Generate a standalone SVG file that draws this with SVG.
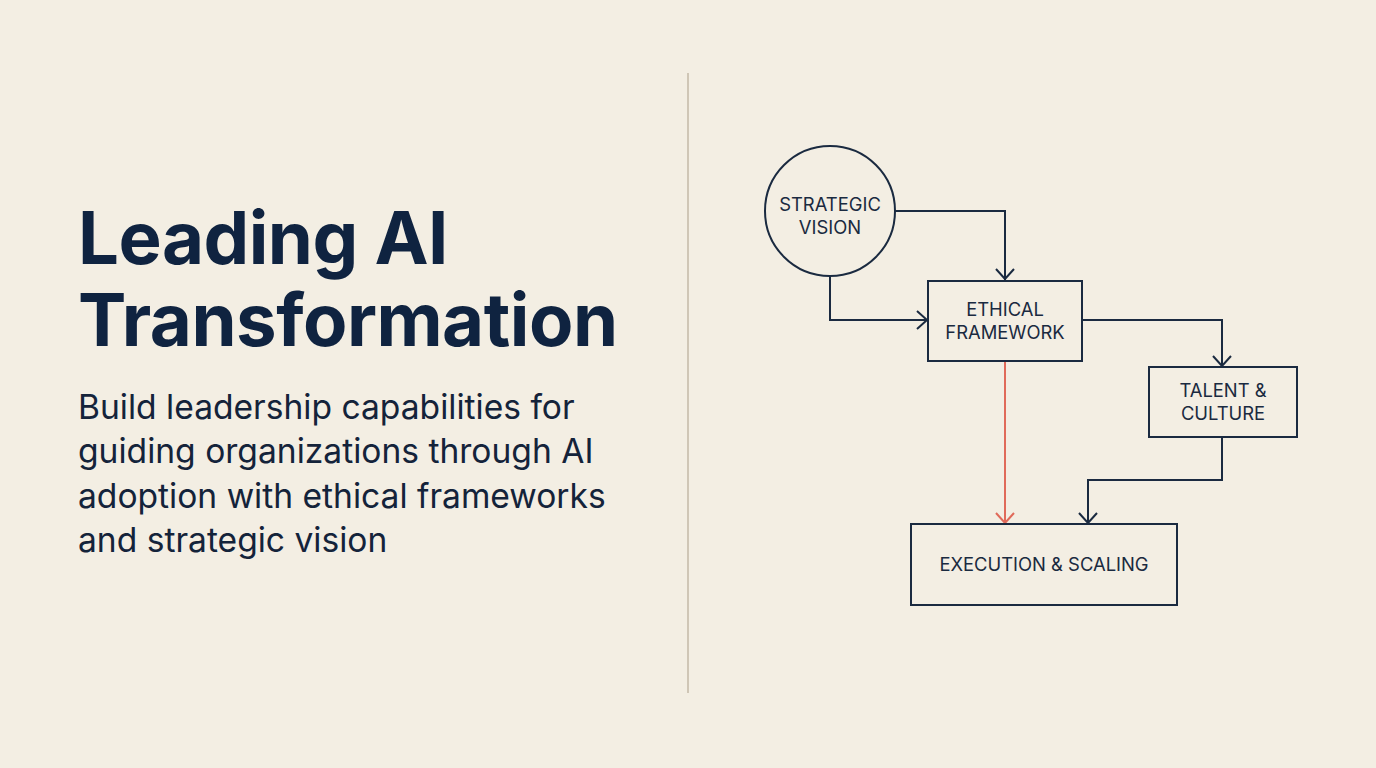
<svg xmlns="http://www.w3.org/2000/svg" width="1376" height="768" viewBox="0 0 1376 768">
<defs>
<style>
.bg{fill:#f3eee3}
.title{font-family:Inter,"Liberation Sans",sans-serif;font-weight:700;font-size:72.5px;fill:#0f2340;letter-spacing:-0.5px}
.sub{font-family:Inter,"Liberation Sans",sans-serif;font-weight:400;font-size:33.6px;fill:#14233a}
.node{fill:none;stroke:#1a2a40;stroke-width:2}
.lbl{font-family:Inter,"Liberation Sans",sans-serif;font-size:18.4px;fill:#1a2a40;text-anchor:middle}
.conn{fill:none;stroke:#1a2a40;stroke-width:2}
.red{fill:none;stroke:#e06a5a;stroke-width:2}
</style>
<marker id="ah" viewBox="0 0 16 24" refX="15" refY="12" markerWidth="16" markerHeight="24" markerUnits="userSpaceOnUse" orient="auto">
<path d="M4,3 L14,12 L4,21" fill="none" stroke="#1a2a40" stroke-width="2"/>
</marker>
<marker id="ahr" viewBox="0 0 16 24" refX="15" refY="12" markerWidth="16" markerHeight="24" markerUnits="userSpaceOnUse" orient="auto">
<path d="M4,3 L14,12 L4,21" fill="none" stroke="#e06a5a" stroke-width="2"/>
</marker>
</defs>
<rect class="bg" x="0" y="0" width="1376" height="768"/>
<g id="heading">
<text class="title" x="78" y="264">Leading AI</text>
<text class="title" x="78" y="346">Transformation</text>
</g>
<g id="subtitle">
<text class="sub" x="78" y="419">Build leadership capabilities for</text>
<text class="sub" x="78" y="463">guiding organizations through AI</text>
<text class="sub" x="78" y="508">adoption with ethical frameworks</text>
<text class="sub" x="78" y="552">and strategic vision</text>
</g>
<line x1="688" y1="73" x2="688" y2="693" stroke="#cfc6b6" stroke-width="2"/>
<g id="connectors">
<path class="conn" d="M895,211 H1005 V280" marker-end="url(#ah)"/>
<path class="conn" d="M830,276 V320 H928" marker-end="url(#ah)"/>
<path class="conn" d="M1082,320 H1222 V367" marker-end="url(#ah)"/>
<path class="red" d="M1005,361 V524" marker-end="url(#ahr)"/>
<path class="conn" d="M1222,437 V480 H1088 V524" marker-end="url(#ah)"/>
</g>
<g id="strategic-vision">
<circle class="node" cx="830" cy="211" r="65"/>
<text class="lbl" x="830" y="211">STRATEGIC</text>
<text class="lbl" x="830" y="234">VISION</text>
</g>
<g id="ethical-framework">
<rect class="node" x="928" y="281" width="154" height="80"/>
<text class="lbl" x="1005" y="316">ETHICAL</text>
<text class="lbl" x="1005" y="339">FRAMEWORK</text>
</g>
<g id="talent-culture">
<rect class="node" x="1149" y="367" width="148" height="70"/>
<text class="lbl" x="1223" y="397">TALENT &amp;</text>
<text class="lbl" x="1223" y="420">CULTURE</text>
</g>
<g id="execution-scaling">
<rect class="node" x="911" y="524" width="266" height="81"/>
<text class="lbl" x="1044" y="571">EXECUTION &amp; SCALING</text>
</g>
</svg>
